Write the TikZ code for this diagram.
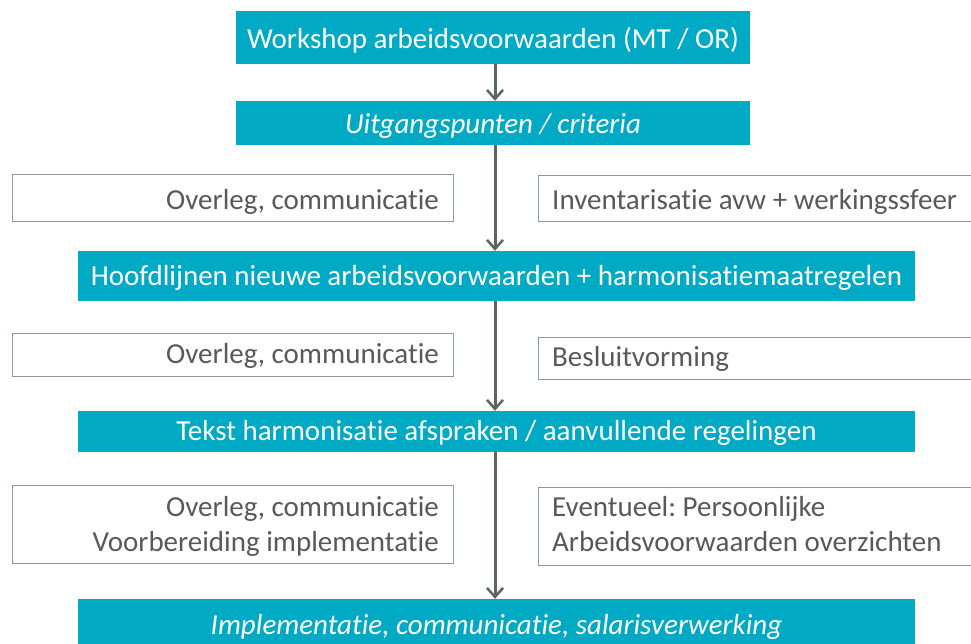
\documentclass[tikz,border=0pt]{standalone}
\usepackage{fontspec}
\setmainfont[Ligatures=NoCommon]{Carlito}
\usetikzlibrary{arrows.meta}
\definecolor{teal1}{HTML}{00A9C4}
\definecolor{arrgray}{HTML}{5A6664}
\definecolor{txtgray}{HTML}{595959}
\definecolor{bordgray}{HTML}{8A9896}
\frenchspacing
\begin{document}
\begin{tikzpicture}[x=1pt,y=-1pt,
  tealbox/.style={rectangle, fill=teal1, text=white, inner sep=0pt, text depth=0pt, font=\fontsize{29}{35}\selectfont},
  sidebox/.style={rectangle, draw=bordgray, line width=1pt, fill=white, inner sep=0pt},
  sidetext/.style={text=txtgray, inner sep=0pt, font=\fontsize{29}{35}\selectfont},
  arr/.style={draw=arrgray, line width=3pt, -{Straight Barb[length=9pt,width=16pt,line width=2.5pt]}}]
\clip (0,0) rectangle (971,644);
\fill[white] (0,0) rectangle (971,644);
\coordinate (spine) at (495,0);
% main steps
\node[tealbox, text height=21.6pt, minimum width=514pt, minimum height=53pt] (b1) at (493,37.5) {Workshop arbeidsvoorwaarden (MT / OR)};
\node[tealbox, text height=20.6pt, minimum width=514pt, minimum height=44pt] (b2) at (493,123) {\itshape Uitgangspunten / criteria};
\node[tealbox, text height=18pt, minimum width=837pt, minimum height=50pt] (b3) at (496.5,276) {Hoofdlijnen nieuwe arbeidsvoorwaarden + harmonisatiemaatregelen};
\node[tealbox, text height=17pt, minimum width=837pt, minimum height=41pt] (b4) at (496.5,431.5) {Tekst harmonisatie afspraken / aanvullende regelingen};
\node[tealbox, text height=16pt, minimum width=837pt, minimum height=54pt] (b5) at (496.5,626) {\itshape Implementatie, communicatie, salarisverwerking};
% side boxes
\node[sidebox, minimum width=441pt, minimum height=47pt] (l1) at (232.5,198.5) {};
\node[sidetext, anchor=base east] (l1t) at (439,210) {Overleg, communicatie};
\node[sidebox, minimum width=460pt, minimum height=46pt] (r1) at (768,199) {};
\node[sidetext, anchor=base west] (r1t) at (552,210) {Inventarisatie avw + werkingssfeer};
\node[sidebox, minimum width=441pt, minimum height=43pt] (l2) at (232.5,354.5) {};
\node[sidetext, anchor=base east] (l2t) at (439,363) {Overleg, communicatie};
\node[sidebox, minimum width=460pt, minimum height=42pt] (r2) at (768,358) {};
\node[sidetext, anchor=base west] (r2t) at (552,366.5) {Besluitvorming};
\node[sidebox, minimum width=441pt, minimum height=78pt] (l3) at (232.5,524.5) {};
\node[sidetext, anchor=base east] (l3a) at (439,516.7) {Overleg, communicatie};
\node[sidetext, anchor=base east] (l3b) at (439,551.7) {Voorbereiding implementatie};
\node[sidebox, minimum width=460pt, minimum height=78pt] (r3) at (768,526) {};
\node[sidetext, anchor=base west] (r3a) at (552,516.7) {Eventueel: Persoonlijke};
\node[sidetext, anchor=base west] (r3b) at (552,551.7) {Arbeidsvoorwaarden overzichten};
% arrows
\draw[arr] (b1.south -| spine) -- (b2.north -| spine);
\draw[arr] (b2.south -| spine) -- (b3.north -| spine);
\draw[arr] (b3.south -| spine) -- (b4.north -| spine);
\draw[arr] (b4.south -| spine) -- (b5.north -| spine);
\end{tikzpicture}
\end{document}
